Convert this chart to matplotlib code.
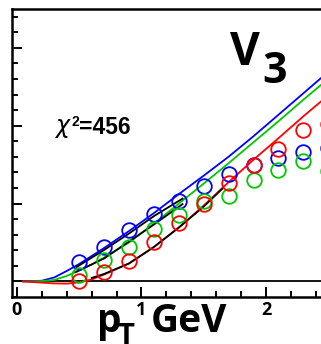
import matplotlib
matplotlib.use('Agg')
import matplotlib.pyplot as plt
from matplotlib.ticker import MultipleLocator, NullFormatter

# ---- data ----
pt_points = [0.5, 0.7, 0.9, 1.1, 1.3, 1.5, 1.7, 1.9, 2.1, 2.3, 2.5]
v3_blue_pts = [0.00487, 0.00890, 0.01326, 0.01736, 0.02059, 0.02462, 0.02756, 0.02987, 0.03179, 0.03321, 0.03423]
v3_green_pts = [0.00167, 0.00551, 0.00879, 0.01359, 0.01705, 0.02064, 0.02205, 0.02615, 0.02872, 0.03090, 0.02846]
v3_red_pts = [0.00013, 0.00231, 0.00513, 0.01013, 0.01495, 0.01987, 0.02538, 0.02992, 0.03403, 0.03897, 0.04051]

pt_curve = [0.05, 0.2, 0.3, 0.4, 0.5, 0.6, 0.7, 0.9, 1.1, 1.3, 1.5, 1.7, 1.9, 2.1, 2.3, 2.5]
v3_blue_curve = [0, 0.00018, 0.00103, 0.00269, 0.00449, 0.00654, 0.00859, 0.01295, 0.01756, 0.02244,
                 0.02718, 0.03205, 0.03731, 0.04282, 0.04833, 0.05385]
v3_green_curve = [0, 0.00008, 0.00038, 0.00141, 0.00282, 0.00436, 0.00615, 0.01000, 0.01487, 0.02000,
                  0.02513, 0.03038, 0.03577, 0.04115, 0.04667, 0.05205]
v3_red_curve = [0, -0.00031, -0.00051, -0.00056, -0.00026, 0.00051, 0.00179, 0.00462, 0.00885, 0.01385,
                0.01949, 0.02551, 0.03128, 0.03679, 0.04241, 0.04782]

pt_black_blue = [0.48, 0.7, 0.9, 1.1, 1.33]
v3_black_blue = [0.00372, 0.00808, 0.01231, 0.01679, 0.02128]
pt_black_green = [0.47, 0.7, 0.9, 1.1, 1.33]
v3_black_green = [0.00238, 0.00590, 0.01026, 0.01462, 0.01987]
pt_black_red = [0.6, 0.7, 0.9, 1.1, 1.3, 1.5, 1.65]
v3_black_red = [0.00090, 0.00192, 0.00462, 0.00885, 0.01385, 0.01923, 0.02385]

x_tick_labels = ['0', '1', '2']
chi2_label = '=456'

BLUE = '#0000ff'
GREEN = '#00c800'
RED = '#ff0000'

W, H = 321, 344
fig = plt.figure(figsize=(W / 100, H / 100), dpi=100)
ax = fig.add_axes([12 / W, (H - 297) / H, 1 - 12 / W, (297 - 9) / H])
ax.set_xlim(-0.04, 2.442)
ax.set_ylim(-0.004, 0.07)

for s in ['left', 'bottom', 'top']:
    ax.spines[s].set_linewidth(1.8)
ax.spines['right'].set_visible(False)

ax.xaxis.set_major_locator(MultipleLocator(1))
ax.xaxis.set_minor_locator(MultipleLocator(0.2))
ax.yaxis.set_major_locator(MultipleLocator(0.02))
ax.yaxis.set_minor_locator(MultipleLocator(0.004))
ax.yaxis.set_major_formatter(NullFormatter())
ax.tick_params(which='both', direction='in', top=False, right=False, width=1.4)
ax.tick_params(which='major', length=7)
ax.tick_params(which='minor', length=4)
ax.tick_params(axis='x', which='major', pad=3)
ax.set_xticks([0, 1, 2])
ax.set_xticklabels(x_tick_labels, fontfamily='Open Sans', fontweight='bold', fontsize=13)

ax.axhline(0, color='black', lw=1.3, zorder=1)

ax.plot(pt_curve, v3_blue_curve, color=BLUE, lw=1.3, zorder=2)
ax.plot(pt_curve, v3_green_curve, color=GREEN, lw=1.3, zorder=2)
ax.plot(pt_curve, v3_red_curve, color=RED, lw=1.3, zorder=2)
ax.plot(pt_black_blue, v3_black_blue, color='black', lw=1.3, zorder=3)
ax.plot(pt_black_green, v3_black_green, color='black', lw=1.3, zorder=3)
ax.plot(pt_black_red, v3_black_red, color='black', lw=1.3, zorder=3)

mk = dict(marker='o', ls='none', ms=10.5, mfc='none', mew=1.3, zorder=4)
ax.plot(pt_points, v3_blue_pts, mec=BLUE, **mk)
ax.plot(pt_points, v3_green_pts, mec=GREEN, **mk)
ax.plot(pt_points, v3_red_pts, mec=RED, **mk)


def px(x, y):
    return x / W, 1 - y / H


fig.text(*px(230, 65), 'V', fontfamily='Open Sans', fontweight='bold', fontsize=33,
         ha='left', va='baseline')
fig.text(*px(262, 83), '3', fontfamily='Open Sans', fontweight='bold', fontsize=31,
         ha='left', va='baseline')

fig.text(*px(97, 332), 'p', fontfamily='Open Sans', fontweight='bold', fontsize=28,
         ha='left', va='baseline')
fig.text(*px(117, 344), 'T', fontfamily='Open Sans', fontweight='bold', fontsize=21,
         ha='left', va='baseline')
fig.text(*px(151, 332), 'GeV', fontfamily='Open Sans', fontweight='bold', fontsize=28,
         ha='left', va='baseline')

fig.text(*px(54, 133), r'$\chi$', fontsize=17, ha='left', va='baseline')
fig.text(*px(72, 126), '2', fontfamily='Liberation Sans', fontweight='bold', fontsize=10,
         ha='left', va='baseline')
fig.text(*px(79, 133.5), chi2_label, fontfamily='Liberation Sans', fontweight='bold', fontsize=16.5,
         ha='left', va='baseline')

fig.savefig('out.png', dpi=100)
